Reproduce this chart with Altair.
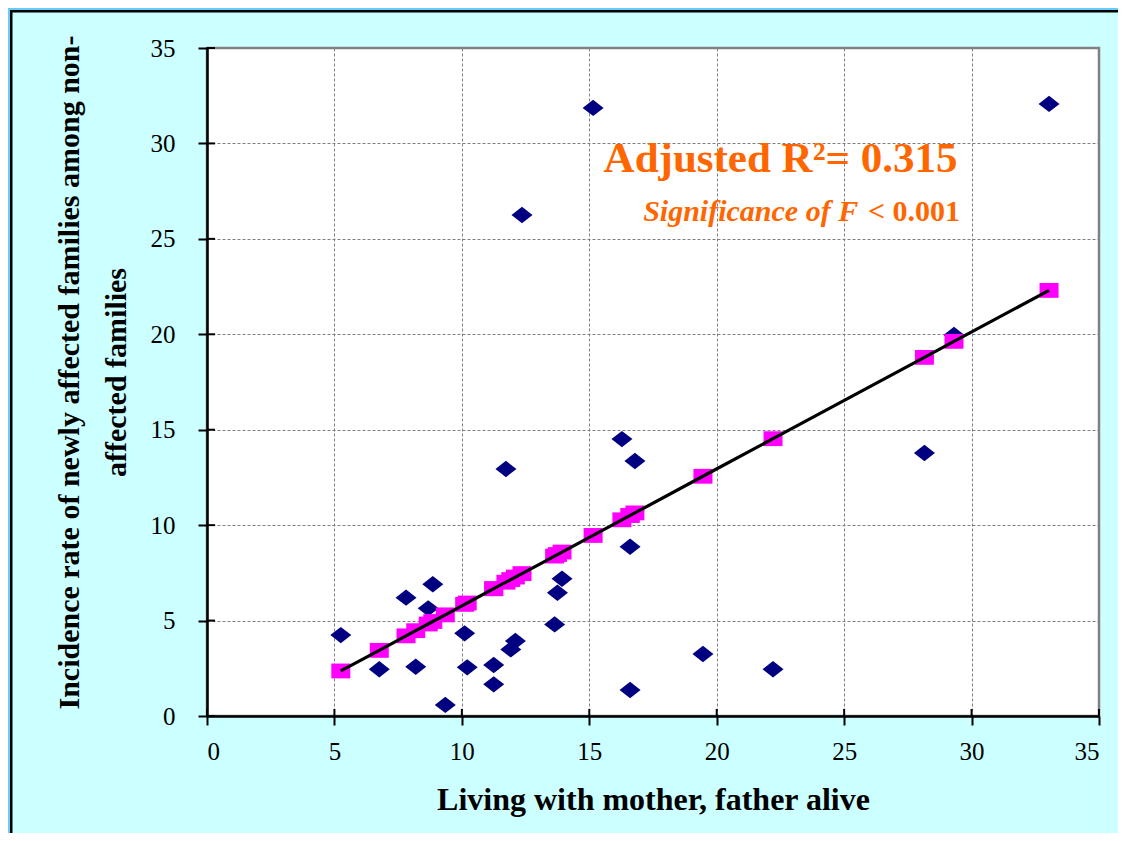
import altair as alt
import pandas as pd

# Data
x_vals = [5.25, 6.76, 7.81, 8.19, 8.86, 8.68, 9.35, 10.11, 10.21, 11.25, 11.25, 11.92, 12.10, 11.73,
          12.36, 13.64, 13.75, 13.93, 15.15, 16.28, 16.60, 16.60, 16.79, 19.46, 22.21, 28.15, 29.31, 33.04]
observed = [4.24, 2.45, 6.20, 2.58, 6.90, 5.64, 0.58, 4.33, 2.55, 2.67, 1.66, 3.49, 3.93, 12.94,
            26.25, 4.80, 6.46, 7.19, 31.86, 14.51, 1.36, 8.87, 13.36, 3.25, 2.45, 13.78, 19.96, 32.07]
predicted = [2.36, 3.44, 4.20, 4.47, 4.95, 4.82, 5.30, 5.85, 5.92, 6.67, 6.67, 7.15, 7.28, 7.01,
             7.46, 8.38, 8.46, 8.59, 9.46, 10.28, 10.51, 10.51, 10.64, 12.56, 14.53, 18.79, 19.63, 22.30]
tick_values = [0, 5, 10, 15, 20, 25, 30, 35]

x_title = "Living with mother, father alive"
y_title = ["Incidence rate of newly affected families among non-", "affected families"]
ann_line1 = "Adjusted R\u00b2= 0.315"
ann_line2a = "Significance of F"
ann_line2b = "< 0.001"

W, H = 892, 668
FONT = "Liberation Serif"
ORANGE = "#FF6600"

df = pd.DataFrame({"x": x_vals, "obs": observed, "pred": predicted})
ticks_df = pd.DataFrame({"t": tick_values})

xscale = alt.Scale(domain=[0, 35], nice=False, zero=True)
yscale = alt.Scale(domain=[0, 35], nice=False, zero=True)

xaxis = alt.Axis(values=tick_values, title=x_title, grid=True)
yaxis = alt.Axis(values=tick_values, title=y_title, grid=True, titleY=324)

DIAMOND = "M0,-0.78L1,0L0,0.78L-1,0Z"
SQUARE = "M-1,-0.78L1,-0.78L1,0.78L-1,0.78Z"

base = alt.Chart(df)

diamonds = base.mark_point(shape=DIAMOND, filled=True, fill="#000080", stroke=None,
                           size=441, opacity=1).encode(
    x=alt.X("x:Q", scale=xscale, axis=xaxis),
    y=alt.Y("obs:Q", scale=yscale, axis=yaxis),
)

squares = base.mark_point(shape=SQUARE, filled=True, fill="#FF00FF", size=361, opacity=1).encode(
    x=alt.X("x:Q", scale=xscale),
    y=alt.Y("pred:Q", scale=yscale),
)

line = base.mark_line(color="black", strokeWidth=3.2).encode(
    x=alt.X("x:Q", scale=xscale),
    y=alt.Y("pred:Q", scale=yscale),
    order="x:Q",
)

# inner half of the crossing tick marks
ytick_in = alt.Chart(ticks_df).mark_rule(color="black", strokeWidth=2).encode(
    y=alt.Y("t:Q", scale=yscale), x=alt.value(0), x2=alt.value(8))
xtick_in = alt.Chart(ticks_df).mark_rule(color="black", strokeWidth=2).encode(
    x=alt.X("t:Q", scale=xscale), y=alt.value(H), y2=alt.value(H - 7))

# slide frame (blue strip + black line) on left and top
frame_df = pd.DataFrame({"k": [0]})
blue_left = alt.Chart(frame_df).mark_rect(color="#66CCFF").encode(
    x=alt.value(-199), x2=alt.value(-197), y=alt.value(-40), y2=alt.value(800))
blue_top = alt.Chart(frame_df).mark_rect(color="#66CCFF").encode(
    x=alt.value(-199), x2=alt.value(920), y=alt.value(-40), y2=alt.value(-38))
black_left = alt.Chart(frame_df).mark_rect(color="black").encode(
    x=alt.value(-197), x2=alt.value(-194.5), y=alt.value(-38), y2=alt.value(800))
black_top = alt.Chart(frame_df).mark_rect(color="black").encode(
    x=alt.value(-197), x2=alt.value(920), y=alt.value(-38), y2=alt.value(-35.5))

ann_df = pd.DataFrame({
    "x": [29.45, 25.55, 29.55],
    "y": [28.52, 25.95, 25.95],
    "label": [ann_line1, ann_line2a, ann_line2b],
})
ann1 = alt.Chart(ann_df.iloc[[0]]).mark_text(
    align="right", baseline="alphabetic", font=FONT, fontSize=43, fontWeight="bold", color=ORANGE
).encode(x=alt.X("x:Q", scale=xscale), y=alt.Y("y:Q", scale=yscale), text="label:N")
ann2 = alt.Chart(ann_df.iloc[[1]]).mark_text(
    align="right", baseline="alphabetic", font=FONT, fontSize=30, fontWeight="bold",
    fontStyle="italic", color=ORANGE
).encode(x=alt.X("x:Q", scale=xscale), y=alt.Y("y:Q", scale=yscale), text="label:N")
ann3 = alt.Chart(ann_df.iloc[[2]]).mark_text(
    align="right", baseline="alphabetic", font=FONT, fontSize=30, fontWeight="bold", color=ORANGE
).encode(x=alt.X("x:Q", scale=xscale), y=alt.Y("y:Q", scale=yscale), text="label:N")

chart = alt.layer(
    blue_left, blue_top, black_left, black_top,
    diamonds, squares, line, ytick_in, xtick_in, ann1, ann2, ann3
).properties(
    width=W, height=H,
    autosize=alt.AutoSizeParams(type="none"),
    padding={"left": 199, "top": 40, "right": 19, "bottom": 117},
    background="#CCFFFF",
).configure_view(
    fill="white", stroke="#808080", strokeWidth=2.5
).configure_axis(
    labelFont=FONT, labelFontSize=25, labelColor="black",
    titleFont=FONT, titleFontWeight="bold", titleColor="black",
    tickColor="black", tickWidth=2, tickSize=9,
    domainColor="black", domainWidth=2.5,
    gridColor="#808080", gridDash=[3, 2], gridWidth=1,
).configure_axisX(
    labelPadding=14, titleFontSize=32, titlePadding=20,
).configure_axisY(
    labelPadding=23, titleFontSize=30, titleLineHeight=47, titlePadding=19,
)

chart.save("out.html", embed_options={"renderer": "svg", "actions": False})
